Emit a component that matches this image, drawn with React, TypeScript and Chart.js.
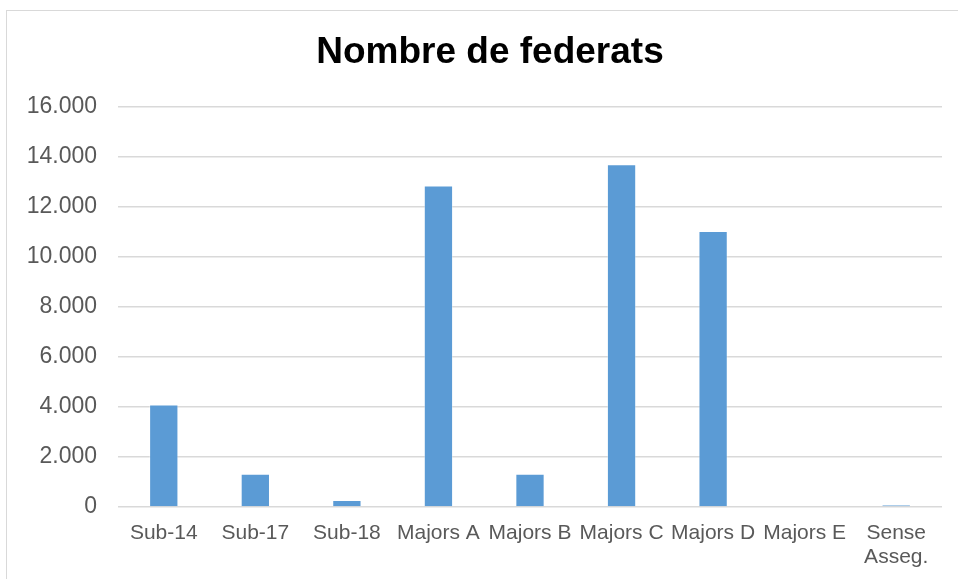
import React, { useEffect, useRef } from "react";
import { Chart, registerables } from "chart.js";

Chart.register(...registerables);

const categories: (string | string[])[] = [
  "Sub-14",
  "Sub-17",
  "Sub-18",
  "Majors A",
  "Majors B",
  "Majors C",
  "Majors D",
  "Majors E",
  ["Sense", "Asseg."],
];
const federats: number[] = [4090, 1330, 280, 12840, 1330, 13690, 11020, 0, 80];
const yTicks: number[] = [0, 2000, 4000, 6000, 8000, 10000, 12000, 14000, 16000];
const titleText = "Nombre de federats";

const FONT = "'Liberation Sans', Arial, Helvetica, sans-serif";

function fmt(v: number): string {
  return String(v).replace(/\B(?=(\d{3})+(?!\d))/g, ".");
}

export default function App() {
  const ref = useRef<HTMLCanvasElement | null>(null);

  useEffect(() => {
    if (!ref.current) return;
    const chart = new Chart(ref.current, {
      type: "bar",
      data: {
        labels: categories,
        datasets: [
          {
            label: titleText,
            data: federats,
            backgroundColor: "#5B9BD5",
            borderColor: "rgba(255,255,255,0.35)",
            borderWidth: 1,
            barPercentage: 0.32,
            categoryPercentage: 1,
          },
        ],
      },
      options: {
        animation: false,
        responsive: false,
        maintainAspectRatio: false,
        devicePixelRatio: 1,
        layout: { padding: { left: 0, right: 0, top: 20, bottom: 24 } },
        plugins: {
          legend: { display: false },
          tooltip: { enabled: false },
          title: {
            display: true,
            text: titleText,
            color: "#000000",
            font: { family: FONT, size: 37, weight: "bold", lineHeight: 1.2 },
            padding: { top: 0, bottom: 31 },
          },
        },
        scales: {
          x: {
            grid: { display: false, drawTicks: false },
            border: { display: false },
            ticks: {
              color: "#595959",
              font: { family: FONT, size: 21, lineHeight: 1.15 },
              padding: 14,
              maxRotation: 0,
              autoSkip: false,
            },
            afterFit: (s: any) => {
              s.height = 80;
            },
          },
          y: {
            min: 0,
            max: 16000,
            afterBuildTicks: (s: any) => {
              s.ticks = yTicks.map((v) => ({ value: v }));
            },
            grid: { color: "#d9d9d9", lineWidth: 1.5, drawTicks: false },
            border: { display: false },
            ticks: {
              color: "#595959",
              font: { family: FONT, size: 23 },
              padding: 21,
              callback: (v: any) => fmt(Number(v)),
            },
            afterFit: (s: any) => {
              s.width = 111;
            },
          },
          spacer: {
            type: "linear",
            position: "right",
            display: true,
            grid: { display: false, drawTicks: false },
            border: { display: false },
            ticks: { display: false },
            afterFit: (s: any) => {
              s.width = 31;
            },
          },
        },
      },
    });
    return () => chart.destroy();
  }, []);

  return (
    <div style={{ position: "fixed", inset: 0, overflow: "hidden", background: "#fff" }}>
      <div
        style={{
          position: "absolute",
          left: 6,
          top: 10,
          width: 966,
          height: 600,
          border: "1px solid #d9d9d9",
          background: "#fff",
        }}
      >
        <canvas ref={ref} width={966} height={600} style={{ display: "block", width: 966, height: 600 }} />
      </div>
    </div>
  );
}
